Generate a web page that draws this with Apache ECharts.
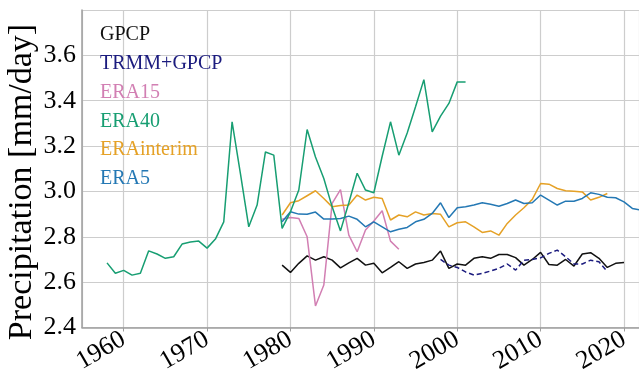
<!DOCTYPE html>
<html><head><meta charset="utf-8">
<script src="https://cdn.jsdelivr.net/npm/echarts@6/dist/echarts.min.js"></script>
<style>html,body{margin:0;padding:0;background:#fff}#c{width:639px;height:379px}</style>
</head><body><div id="c"></div>
<script>
const seriesNames = ['GPCP', 'TRMM+GPCP', 'ERA15', 'ERA40', 'ERAinterim', 'ERA5'];
const seriesColors = ['#111111', '#1b1b7e', '#d27fb3', '#179e72', '#e5a126', '#2478b4'];

const gpcpStart = 1979;
const gpcp = [2.675, 2.643, 2.683, 2.716, 2.697, 2.712, 2.697, 2.663, 2.685, 2.705,
  2.675, 2.683, 2.641, 2.665, 2.69, 2.661, 2.68, 2.687, 2.697, 2.737,
  2.661, 2.68, 2.675, 2.705, 2.712, 2.705, 2.722, 2.722, 2.708, 2.675,
  2.7, 2.731, 2.678, 2.675, 2.7, 2.671, 2.724, 2.73, 2.705, 2.665,
  2.683, 2.687];

const trmmStart = 1998;
const trmm = [2.7, 2.675, 2.665, 2.645, 2.631, 2.639, 2.649, 2.661, 2.68, 2.653,
  2.697, 2.7, 2.707, 2.727, 2.741, 2.712, 2.68, 2.68, 2.697, 2.69, 2.646];

const era15Start = 1979;
const era15 = [2.877, 2.885, 2.881, 2.8, 2.495, 2.587, 2.947, 3.008, 2.807, 2.734,
  2.83, 2.87, 2.915, 2.781, 2.745];

const era40Start = 1958;
const era40 = [2.685, 2.639, 2.652, 2.631, 2.639, 2.738, 2.724, 2.705, 2.712, 2.768,
  2.777, 2.781, 2.75, 2.79, 2.866, 3.307, 3.079, 2.844, 2.94, 3.174,
  3.16, 2.837, 2.91, 3.006, 3.273, 3.152, 3.057, 2.932, 2.826, 2.95,
  3.08, 3.006, 2.994, 3.155, 3.307, 3.16, 3.258, 3.373, 3.493, 3.263,
  3.332, 3.388, 3.483, 3.483];

const eraiStart = 1979;
const erai = [2.896, 2.95, 2.959, 2.981, 3.003, 2.969, 2.932, 2.938, 2.94, 2.984,
  2.962, 2.974, 2.969, 2.874, 2.896, 2.888, 2.91, 2.896, 2.903, 2.899,
  2.844, 2.862, 2.866, 2.844, 2.819, 2.826, 2.807, 2.859, 2.896, 2.928,
  2.965, 3.035, 3.032, 3.013, 3.003, 3.001, 2.998, 2.962, 2.974, 2.991];

const era5Start = 1979;
const era5 = [2.866, 2.91, 2.9, 2.899, 2.909, 2.878, 2.878, 2.881, 2.891, 2.877,
  2.844, 2.866, 2.844, 2.822, 2.833, 2.841, 2.866, 2.877, 2.903, 2.95,
  2.885, 2.928, 2.932, 2.94, 2.95, 2.943, 2.935, 2.947, 2.962, 2.947,
  2.95, 2.984, 2.962, 2.94, 2.957, 2.957, 2.969, 2.994, 2.987, 2.974,
  2.972, 2.954, 2.925, 2.918];

const yTicks = [2.4, 2.6, 2.8, 3.0, 3.2, 3.4, 3.6];
const xTicks = [1960, 1970, 1980, 1990, 2000, 2010, 2020];

const starts = [gpcpStart, trmmStart, era15Start, era40Start, eraiStart, era5Start];
const values = [gpcp, trmm, era15, era40, erai, era5];

function pairs(start, arr) { return arr.map((v, i) => [start + i, v]); }

const FONT = '"Liberation Serif", "Times New Roman", serif';
const chart = echarts.init(document.getElementById('c'), null, {renderer: 'canvas'});

const series = seriesNames.map((name, k) => ({
  name: name,
  type: 'line',
  data: pairs(starts[k], values[k]),
  showSymbol: false,
  symbol: 'none',
  animation: false,
  clip: true,
  z: [2, 3, 4, 5, 4, 4][k],
  lineStyle: {
    color: seriesColors[k],
    width: 1.5,
    type: k === 1 ? [5, 3] : 'solid'
  },
  itemStyle: {color: seriesColors[k]}
}));

chart.setOption({
  animation: false,
  backgroundColor: '#ffffff',
  grid: {left: 82, top: 10, right: 0, bottom: 51.5, containLabel: false},
  xAxis: {
    type: 'value',
    min: 1955,
    max: 2021.8,
    splitNumber: 6,
    axisLine: {show: true, lineStyle: {color: '#9e9e9e', width: 1.5}},
    axisTick: {show: true, length: 4, lineStyle: {color: '#9e9e9e', width: 1}},
    splitLine: {show: true, lineStyle: {color: '#cdcdcd', width: 1.2}},
    axisLabel: {
      rotate: 30, margin: 10, showMinLabel: false, showMaxLabel: false,
      color: '#000', fontFamily: FONT, fontSize: 26,
      formatter: v => (xTicks.indexOf(Math.round(v)) >= 0 ? String(Math.round(v)) : '')
    }
  },
  yAxis: {
    type: 'value',
    min: 2.4,
    max: 3.8,
    interval: 0.2,
    axisLine: {show: true, lineStyle: {color: '#9e9e9e', width: 1.5}},
    axisTick: {show: false},
    splitLine: {show: true, lineStyle: {color: '#cdcdcd', width: 1.2}},
    axisLabel: {
      margin: 6, showMaxLabel: false,
      color: '#000', fontFamily: FONT, fontSize: 26,
      formatter: v => {
        const t = yTicks.find(y => Math.abs(y - v) < 1e-6);
        return t === undefined ? '' : t.toFixed(1);
      }
    }
  },
  legend: {
    orient: 'vertical', left: 87, top: 25, padding: 0,
    itemWidth: 0, itemHeight: 20, itemGap: 8.8,
    selectedMode: false,
    itemStyle: {opacity: 0}, lineStyle: {opacity: 0},
    textStyle: {fontFamily: FONT, fontSize: 20, lineHeight: 20},
    data: seriesNames.map((n, i) => ({name: n, textStyle: {color: seriesColors[i]}}))
  },
  graphic: [{
    type: 'text', x: 22.5, y: 182, rotation: Math.PI / 2,
    style: {text: 'Precipitation [mm/day]', font: '34px ' + FONT, fill: '#000', align: 'center', verticalAlign: 'middle'}
  }],
  series: series
});
</script>
</body></html>
